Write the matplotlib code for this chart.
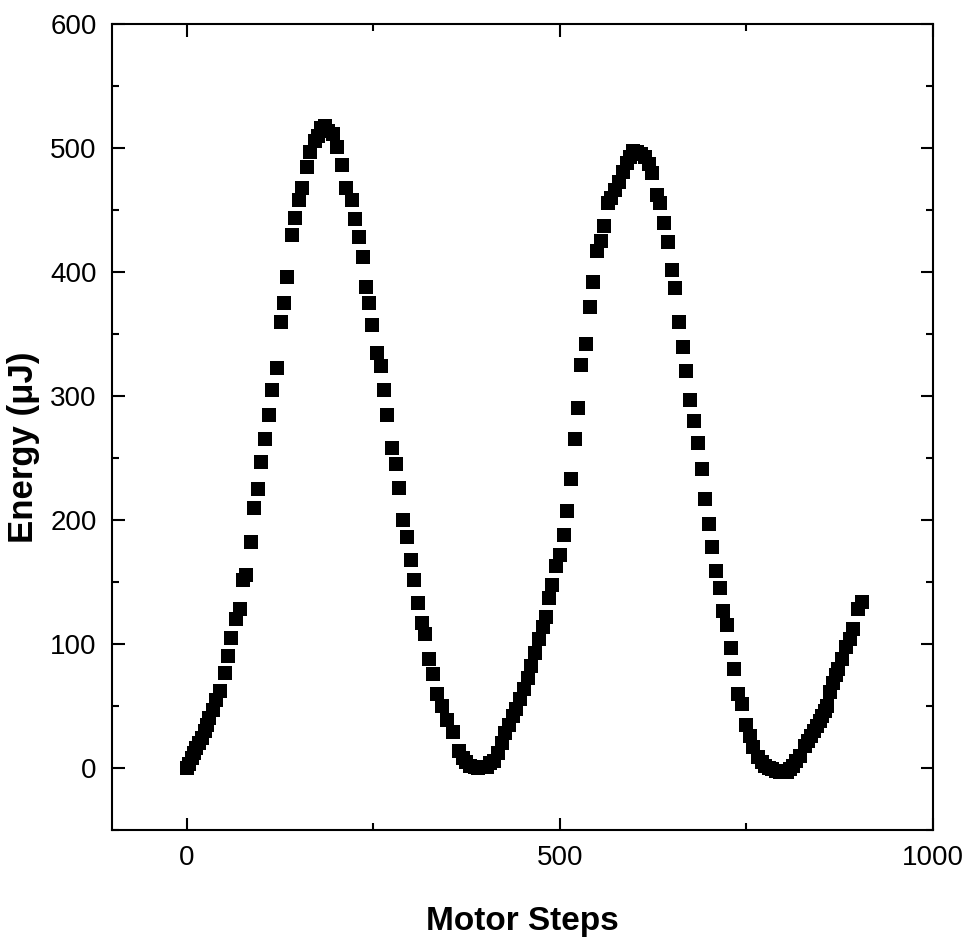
import matplotlib
matplotlib.use('Agg')
import matplotlib.pyplot as plt
from matplotlib.ticker import MultipleLocator

plt.rcParams['font.family'] = ['Liberation Sans Narrow', 'Liberation Sans', 'DejaVu Sans']

steps = [0, 3, 7, 10, 13, 17, 20, 24, 27, 30, 35, 40, 45, 51, 55, 60, 66, 71, 76, 80,
         86, 90, 95, 100, 105, 110, 115, 121, 126, 130, 135, 141, 145, 150, 155, 161, 165, 172, 176, 180,
         185, 190, 196, 201, 208, 214, 221, 225, 231, 236, 240, 244, 249, 255, 260, 265, 269, 275, 280, 284,
         290, 295, 300, 304, 310, 315, 320, 325, 330, 335, 342, 349, 357, 365, 370, 375, 380, 386, 391, 397,
         402, 407, 412, 417, 422, 427, 432, 437, 442, 447, 452, 457, 462, 467, 472, 477, 481, 485, 490, 495,
         500, 505, 510, 515, 520, 525, 529, 535, 540, 545, 550, 555, 559, 565, 569, 574, 579, 585, 590, 594,
         598, 604, 609, 614, 619, 624, 630, 634, 639, 645, 650, 654, 660, 665, 669, 674, 680, 685, 690, 695,
         700, 704, 709, 714, 719, 724, 729, 734, 739, 744, 749, 755, 759, 766, 771, 775, 780, 784, 790, 795,
         800, 804, 808, 812, 817, 822, 828, 832, 837, 841, 844, 848, 851, 855, 858, 862, 866, 870, 873, 878,
         884, 889, 893, 899, 905]
energy = [0, 3, 8, 12, 16, 20, 24, 30, 35, 40, 47, 55, 62, 77, 90, 105, 120, 128, 152, 156,
          182, 210, 225, 247, 265, 285, 305, 323, 360, 375, 396, 430, 444, 458, 468, 485, 497, 506, 510, 516,
          518, 514, 511, 501, 486, 468, 458, 443, 428, 412, 388, 375, 357, 335, 324, 305, 285, 258, 245, 226,
          200, 186, 168, 152, 133, 117, 108, 88, 76, 60, 50, 39, 29, 14, 8, 5, 2, 1, 0, 1,
          1, 4, 6, 12, 20, 28, 35, 42, 48, 56, 64, 73, 82, 93, 104, 114, 122, 137, 148, 163,
          172, 188, 207, 233, 265, 290, 325, 342, 372, 392, 417, 425, 437, 456, 460, 466, 473, 481, 488, 493,
          498, 497, 495, 493, 487, 480, 462, 456, 440, 424, 402, 387, 360, 340, 320, 297, 280, 262, 241, 217,
          197, 178, 159, 145, 127, 115, 97, 80, 60, 52, 35, 26, 17, 9, 5, 2, 0, -1, -2, -3,
          -3, -3, -1, 2, 6, 10, 18, 22, 26, 30, 34, 38, 42, 46, 50, 61, 69, 75, 80, 88,
          98, 104, 112, 128, 134]

fig = plt.figure(figsize=(9.67, 9.47), dpi=100)
ax = fig.add_axes([0.1158, 0.1235, 0.849, 0.851])

ax.plot(steps, energy, linestyle='none', marker='s', markersize=10.5,
        color='black', markeredgewidth=0)

ax.set_xlim(-100, 1000)
ax.set_ylim(-50, 600)
ax.xaxis.set_major_locator(MultipleLocator(500))
ax.xaxis.set_minor_locator(MultipleLocator(250))
ax.yaxis.set_major_locator(MultipleLocator(100))
ax.yaxis.set_minor_locator(MultipleLocator(50))

ax.tick_params(which='both', direction='in', top=True, right=True, width=1.5)
ax.tick_params(which='major', length=9, labelsize=20, pad=11)
ax.tick_params(which='minor', length=5)
for sp in ax.spines.values():
    sp.set_linewidth(1.5)

ax.set_xlabel('Motor Steps', fontsize=24, fontweight='bold', labelpad=25)
ax.set_ylabel('Energy (μJ)', fontsize=25, fontweight='bold')
ax.yaxis.set_label_coords(-0.088, 0.475)

fig.savefig('out.png', dpi=100)
